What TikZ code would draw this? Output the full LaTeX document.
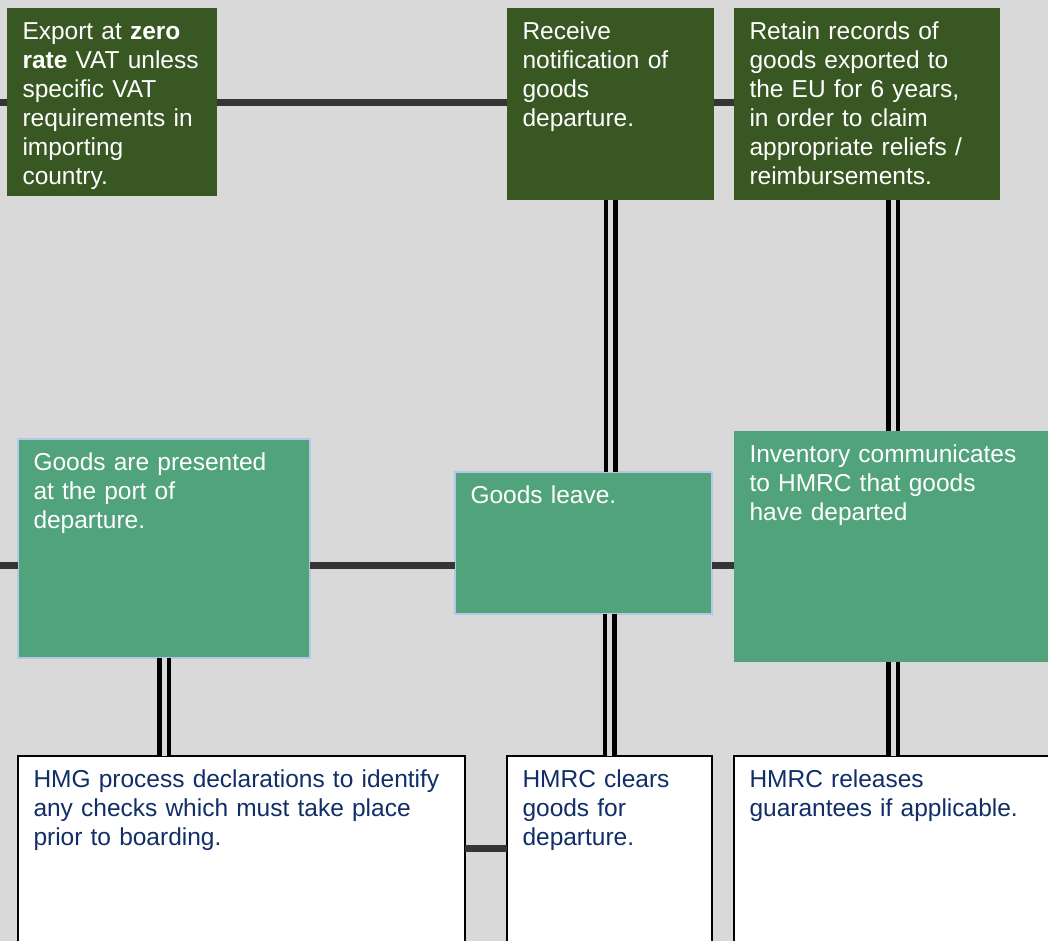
\documentclass[tikz,border=0pt]{standalone}
\usepackage{fontspec}
\setmainfont{Liberation Sans}
\usetikzlibrary{positioning}
\definecolor{cBg}{HTML}{D9D9D9}
\definecolor{cDark}{HTML}{385723}
\definecolor{cMid}{HTML}{50A37A}
\definecolor{cEdge}{HTML}{B4C7E7}
\definecolor{cNavy}{HTML}{112E68}
\definecolor{cLine}{HTML}{353535}

\begin{document}
\begin{tikzpicture}[x=1pt,y=-1pt,
      font=\fontsize{24.5}{29}\selectfont,
      box/.style={rectangle,anchor=north west,align=left,outer sep=0pt,
        inner xsep=15.5pt,inner ysep=0pt,text height=31.5pt},
      darkbox/.style={box,fill=cDark,text=white},
      midbox/.style={box,fill=cMid,text=white},
      edgebox/.style={midbox,draw=cEdge,line width=2pt},
      whitebox/.style={box,fill=white,draw=black,line width=2pt,text=cNavy},
      link/.style={draw=cLine,line width=7pt},
      dlink/.style={draw=black,double=cBg,double distance=5pt,line width=4.5pt}]
    \useasboundingbox (0,0) rectangle (1048,941);
    \fill[cBg] (0,0) rectangle (1048,941);
    \clip (0,0) rectangle (1048,941);

    % top row
    \node[darkbox,text width=179pt,text depth=156.5pt] (zero) at (7,8)
      {Export at \textbf{zero}\\\textbf{rate} VAT unless\\specific VAT\\requirements in\\importing\\country.};
    \node[darkbox,text width=176pt,text depth=160.5pt] (notify) at (507,8)
      {Receive\\notification of\\goods\\departure.};
    \node[darkbox,text width=235pt,text depth=160.5pt] (records) at (734,8)
      {Retain records of\\goods exported to\\the EU for 6 years,\\in order to claim\\appropriate reliefs /\\reimbursements.};

    % middle row
    \node[edgebox,text width=261pt,text depth=187.5pt] (port) at (18,439)
      {Goods are presented\\at the port of\\departure.};
    \node[edgebox,text width=226pt,text depth=110.5pt] (leave) at (455,472)
      {Goods leave.};
    \node[midbox,text width=287pt,text depth=199.5pt] (inventory) at (734,431)
      {Inventory communicates\\to HMRC that goods\\have departed};

    % bottom row
    \node[whitebox,text width=416pt,text depth=168.5pt] (hmg) at (18,756)
      {HMG process declarations to identify\\any checks which must take place\\prior to boarding.};
    \node[whitebox,text width=174pt,text depth=168.5pt] (clears) at (507,756)
      {HMRC clears\\goods for\\departure.};
    \node[whitebox,text width=287pt,text depth=168.5pt] (releases) at (734,756)
      {HMRC releases\\guarantees if applicable.};

    \coordinate (toprail) at (0,103);
    \coordinate (midrail) at (0,565);
    \coordinate (lowrail) at (0,848);

    % horizontal rails
    \draw[link] (toprail) -- (toprail -| zero.west);
    \draw[link] (toprail -| zero.east) -- (toprail -| notify.west);
    \draw[link] (toprail -| notify.east) -- (toprail -| records.west);
    \draw[link] (midrail) -- (midrail -| port.west);
    \draw[link] (midrail -| port.east) -- (midrail -| leave.west);
    \draw[link] (midrail -| leave.east) -- (midrail -| inventory.west);
    \draw[link] (lowrail -| hmg.east) -- (lowrail -| clears.west);

    % vertical double links
    \draw[dlink] (notify.south) -- (notify.south |- leave.north);
    \draw[dlink] (clears.north) -- (clears.north |- leave.south);
    \draw[dlink] (inventory.north) -- (inventory.north |- records.south);
    \draw[dlink] (inventory.south) -- (inventory.south |- releases.north);
    \draw[dlink] (port.south) -- (port.south |- hmg.north);
  \end{tikzpicture}
\end{document}
